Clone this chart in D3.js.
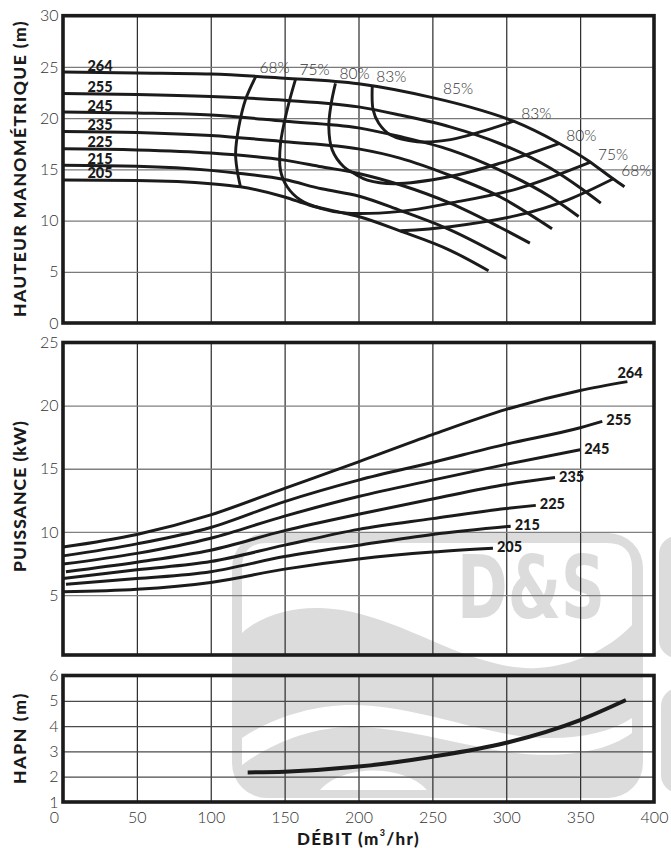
<!DOCTYPE html>
<html>
<head>
<meta charset="utf-8">
<script src="https://cdn.jsdelivr.net/npm/d3@7"></script>
<style>
  body { margin: 0; background: #fff; }
  svg { display: block; }
  .tick text { font-family: "Lato", "Noto Sans", sans-serif; font-weight: 300; font-size: 16px; fill: #333; }
  .title { font-family: "Lato", "Noto Sans", sans-serif; font-weight: 900; fill: #1a1a1a; }
  .dlabel { font-family: "Lato", "Noto Sans", sans-serif; font-weight: 900; font-size: 14.5px; fill: #1a1a1a; }
  .elabel { font-family: "Lato", "Noto Sans", sans-serif; font-weight: 300; font-size: 15.5px; fill: #333; }
</style>
</head>
<body>
<svg id="chart" width="671" height="848"></svg>
<script>
// ---------------- DATA ----------------
const flowTicks = [0, 50, 100, 150, 200, 250, 300, 350, 400];
const headTicks = [0, 5, 10, 15, 20, 25, 30];
const powerTicks = [5, 10, 15, 20, 25];
const npshTicks = [1, 2, 3, 4, 5, 6];
const diameters = ["264", "255", "245", "235", "225", "215", "205"];

// Head (m) vs flow (m3/hr) for each impeller diameter
const head264 = [[0,24.5],[50,24.4],[100,24.3],[150,23.9],[200,23.35],[250,22.0],[275,21.1],[305,19.7],[335,17.6],[355,15.9],[372,14.1],[380,13.3]];
const head255 = [[0,22.4],[50,22.3],[100,22.1],[150,21.75],[200,21.1],[228,20.3],[262,19.15],[296,17.5],[330,15.1],[350,13.2],[364,11.7]];
const head245 = [[0,20.6],[50,20.5],[100,20.3],[150,19.7],[200,19.05],[228,18.2],[262,16.9],[296,14.9],[330,12.3],[349,10.4]];
const head235 = [[0,18.7],[50,18.6],[100,18.3],[150,17.7],[200,17.0],[228,16.1],[262,14.4],[296,12.3],[331,9.2]];
const head225 = [[0,17.0],[50,16.9],[100,16.6],[150,15.9],[175,15.25],[200,14.6],[228,13.5],[262,11.7],[295,9.4],[316,7.8]];
const head215 = [[0,15.4],[50,15.3],[100,14.9],[120,14.6],[150,14.0],[175,13.1],[200,12.4],[228,11.0],[262,9.1],[300,6.3]];
const head205 = [[0,13.95],[50,13.9],[100,13.6],[120,13.3],[150,12.3],[167,11.5],[185,10.9],[200,10.4],[228,9.0],[262,7.1],[288,5.1]];

// Efficiency iso-lines (flow, head)
const eff68Left  = [[130.3,24.0],[123.5,21.8],[119,19.15],[116.8,16.55],[117.9,14.9],[120.1,13.3]];
const eff68Right = [[228.4,9.0],[262,9.4],[307.4,10.5],[341.3,12.0],[372.8,14.1]];
const eff75 = [[157.4,23.8],[151.7,20.8],[147.2,17.5],[147.2,14.9],[151.7,13.3],[160.7,12.0],[174.3,11.2],[190,10.75],[228.4,10.9],[262,11.7],[307.4,13.1],[357,15.7]];
const eff80 = [[184.4,23.4],[181.5,21.4],[179.9,19.15],[182.2,16.9],[190,15.25],[197,14.6],[206,13.95],[224,13.6],[262,14.3],[296,15.6],[335.6,17.5]];
const eff83 = [[209.3,23.05],[209.9,20.8],[213.7,19.5],[221.7,18.35],[239.7,17.7],[262.3,17.9],[284.8,18.76],[305.1,19.7]];
const effLevels = ["68%", "75%", "80%", "83%"];
const bestEffLabel = "85%";
const bestEffPoint = [257.2, 22.9];

// Power (kW) vs flow
const pow264 = [[0,8.8],[50,9.8],[100,11.35],[150,13.45],[200,15.55],[250,17.7],[300,19.7],[350,21.2],[382,21.9]];
const pow255 = [[0,8.1],[50,9.05],[100,10.35],[150,12.4],[200,14.1],[250,15.5],[300,16.95],[350,18.25],[365,18.75]];
const pow245 = [[0,7.45],[50,8.3],[100,9.5],[150,11.25],[200,12.8],[250,14.1],[300,15.35],[350,16.5]];
const pow235 = [[2,6.85],[50,7.6],[100,8.55],[150,10.1],[200,11.4],[250,12.6],[300,13.75],[333,14.3]];
const pow225 = [[0,6.3],[50,7.0],[100,7.65],[150,8.95],[200,10.2],[250,11.05],[300,11.85],[320,12.1]];
const pow215 = [[2,5.85],[50,6.3],[100,6.85],[150,8.05],[200,8.95],[250,9.8],[303,10.45]];
const pow205 = [[0,5.25],[50,5.45],[100,6.0],[150,7.05],[200,7.85],[250,8.4],[291,8.7]];

// NPSH required (m) vs flow
const npsh = [[125,2.17],[150,2.2],[200,2.4],[250,2.79],[300,3.34],[350,4.24],[381,5.03]];

const headTitle = "HAUTEUR MANOMÉTRIQUE (m)";
const powerTitle = "PUISSANCE (kW)";
const npshTitle = "HAPN (m)";

// ---------------- BUILD ----------------
const headCurves = [head264, head255, head245, head235, head225, head215, head205];
const powCurves = [pow264, pow255, pow245, pow235, pow225, pow215, pow205];
const effContours = [
  { label: effLevels[0], segs: [eff68Left, eff68Right] },
  { label: effLevels[1], segs: [eff75] },
  { label: effLevels[2], segs: [eff80] },
  { label: effLevels[3], segs: [eff83] }
];

const svg = d3.select("#chart");
const INK = "#1b1b1b";
const fmt = d3.format("d");

const x = d3.scaleLinear().domain([0, 400]).range([63, 654]);
const yHead = d3.scaleLinear().domain([0, 30]).range([323, 15.7]);
const yPow = d3.scaleLinear().domain([0.25, 25]).range([655, 342.5]);
const yNpsh = d3.scaleLinear().domain([1, 6]).range([802, 675.5]);

// ---- watermark (decorative logo behind charts) ----
(function watermark() {
  const g = svg.append("g").attr("fill", "#dcdcdc");
  const wm = g.append("g").attr("transform", "translate(232,533)");
  wm.append("rect").attr("width", 411).attr("height", 265).attr("rx", 35);
  wm.append("path").attr("fill", "#fff")
    .attr("d", "M10,100 C30,82 60,74 88,75 C130,76 170,95 210,112 C245,127 280,137 305,135 C340,133 375,118 400,92 L400,35 Q400,10 375,10 L35,10 Q10,10 10,35 Z");
  wm.append("text").text("D&S")
    .attr("x", 225).attr("y", 85)
    .attr("textLength", 148).attr("lengthAdjust", "spacingAndGlyphs")
    .style("font-family", "'DejaVu Sans', sans-serif").style("font-weight", "bold").style("font-size", "88px");
  wm.append("path").attr("fill", "#fff")
    .attr("d", "M10,205 C40,185 80,172 120,172 C170,172 220,190 270,200 C320,210 370,205 400,185 L400,200 C370,222 320,226 270,218 C220,210 170,194 120,194 C80,194 40,210 10,232 Z");
  wm.append("path").attr("fill", "#fff").attr("d", "M88,257 C110,232 170,230 195,257 Z");
  g.append("rect").attr("x", 659).attr("y", 536).attr("width", 40).attr("height", 122).attr("rx", 18);
  g.append("rect").attr("x", 661).attr("y", 688).attr("width", 40).attr("height", 105).attr("rx", 18);
})();

function panel(y, hGrid, hColor) {
  const g = svg.append("g");
  const [y0, y1] = y.range();
  const [x0, x1] = x.range();
  g.append("g").attr("transform", `translate(0,${y0})`)
    .call(d3.axisBottom(x).tickValues(flowTicks.slice(1, -1)).tickSize(-(y0 - y1)).tickFormat(""))
    .call(a => a.select(".domain").remove())
    .selectAll("line").attr("stroke", "#2a2a2a").attr("stroke-width", 1.2);
  g.append("g").attr("transform", `translate(${x0},0)`)
    .call(d3.axisLeft(y).tickValues(hGrid).tickSize(-(x1 - x0)).tickFormat(""))
    .call(a => a.select(".domain").remove())
    .selectAll("line").attr("stroke", hColor).attr("stroke-width", 1.3);
  return g;
}

function frame(y) {
  const [y0, y1] = y.range();
  const [x0, x1] = x.range();
  svg.append("rect").attr("x", x0).attr("y", y1).attr("width", x1 - x0).attr("height", y0 - y1)
    .attr("fill", "none").attr("stroke", INK).attr("stroke-width", 3.6);
}

function yLabels(y, ticks) {
  svg.append("g").attr("transform", `translate(${x.range()[0]},0)`)
    .call(d3.axisLeft(y).tickValues(ticks).tickFormat(fmt).tickSize(0).tickPadding(4.5))
    .call(a => a.select(".domain").remove());
}

function title(cx, cy, rotate, size) {
  return svg.append("text").attr("class", "title")
    .attr("text-anchor", "middle").attr("dominant-baseline", "central")
    .attr("transform", `translate(${cx},${cy})` + (rotate ? " rotate(-90)" : ""))
    .style("font-size", size + "px");
}
function fitSpacing(t, len, nChars) {
  const w = t.node().getComputedTextLength();
  t.style("letter-spacing", ((len - w) / nChars) + "px");
}

const lineGen = (y, curve) => d3.line().x(d => x(d[0])).y(d => y(d[1])).curve(curve);

// ===== Panel 1 : head =====
panel(yHead, [5, 10, 15, 20, 25], "#7a7a7a");
const gHead = svg.append("g").attr("fill", "none").attr("stroke", INK).attr("stroke-linecap", "butt");
gHead.selectAll("path.h").data(headCurves).join("path").attr("class", "h")
  .attr("d", lineGen(yHead, d3.curveMonotoneX)).attr("stroke-width", 3);
effContours.forEach(c => {
  c.segs.forEach(s => gHead.append("path").attr("d", lineGen(yHead, d3.curveCatmullRom.alpha(0.5))(s)).attr("stroke-width", 2.9));
});
effContours.forEach(c => {
  const first = c.segs[0][0];
  const lastSeg = c.segs[c.segs.length - 1];
  const last = lastSeg[lastSeg.length - 1];
  svg.append("text").attr("class", "elabel").text(c.label)
    .attr("x", x(first[0]) + 4).attr("y", yHead(first[1]) - 4.5);
  svg.append("text").attr("class", "elabel").text(c.label)
    .attr("x", x(last[0]) + 7.5).attr("y", yHead(last[1]) - 2.5);
});
svg.append("text").attr("class", "elabel").text(bestEffLabel)
  .attr("x", x(bestEffPoint[0])).attr("y", yHead(bestEffPoint[1]) + 5.5);
const labelQ = 16.5;
headCurves.forEach((c, i) => {
  const i1 = d3.bisector(d => d[0]).right(c, labelQ);
  const a = c[i1 - 1], b = c[i1];
  const h = a[1] + (b[1] - a[1]) * (labelQ - a[0]) / (b[0] - a[0]);
  svg.append("text").attr("class", "dlabel").text(diameters[i])
    .attr("x", x(labelQ)).attr("y", yHead(h) - 1.8);
});
frame(yHead);
yLabels(yHead, headTicks);

// ===== Panel 2 : power =====
panel(yPow, [5, 10, 15, 20], "#808080");
const gPow = svg.append("g").attr("fill", "none").attr("stroke", INK);
gPow.selectAll("path").data(powCurves).join("path")
  .attr("d", lineGen(yPow, d3.curveMonotoneX)).attr("stroke-width", 3);
powCurves.forEach((c, i) => {
  const end = c[c.length - 1];
  const top = i === 0;
  svg.append("text").attr("class", "dlabel").text(diameters[i])
    .attr("x", x(end[0]) + (top ? -10 : 4))
    .attr("y", yPow(end[1]) + (top ? -4 : 4));
});
frame(yPow);
yLabels(yPow, powerTicks);

// ===== Panel 3 : NPSH =====
panel(yNpsh, [2, 3, 4, 5], "#4a4a4a");
svg.append("path").datum(npsh).attr("fill", "none").attr("stroke", INK).attr("stroke-width", 4)
  .attr("d", lineGen(yNpsh, d3.curveMonotoneX));
frame(yNpsh);
yLabels(yNpsh, npshTicks);

const xl = svg.append("g").attr("transform", `translate(0,${yNpsh.range()[0]})`)
  .call(d3.axisBottom(x).tickValues(flowTicks).tickFormat(fmt).tickSize(0).tickPadding(9.5))
  .call(a => a.select(".domain").remove());
xl.selectAll(".tick").filter(d => d === 0).select("text").attr("dx", -9);

// axis titles
const t1 = title(19.5, 168.5, true, 17.5).text(headTitle);
fitSpacing(t1, 297, headTitle.length);
const t2 = title(19.5, 496, true, 17.5).text(powerTitle);
fitSpacing(t2, 152, powerTitle.length);
const t3 = title(19.5, 738, true, 17.5).text(npshTitle);
fitSpacing(t3, 92, npshTitle.length);
const t4 = title(358.5, 838, false, 17);
t4.append("tspan").text("DÉBIT (m");
t4.append("tspan").text("3").style("font-size", "9px").attr("dy", "-6");
t4.append("tspan").text("/hr)").attr("dy", "6");
fitSpacing(t4, 123, 13);
</script>
</body>
</html>
